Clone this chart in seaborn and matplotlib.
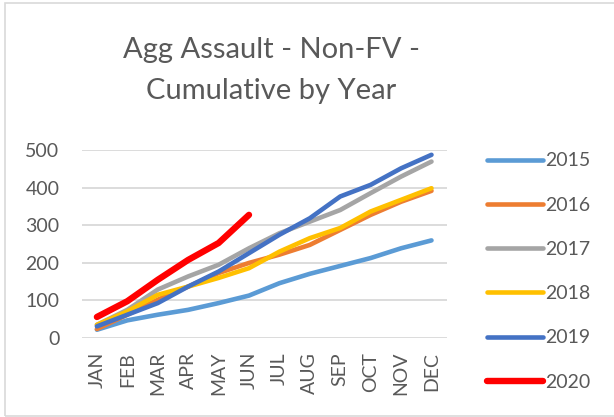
import pandas as pd
import matplotlib
matplotlib.use("Agg")
import matplotlib.pyplot as plt
import seaborn as sns
from matplotlib.patches import Rectangle
from matplotlib.lines import Line2D

months = ["JAN", "FEB", "MAR", "APR", "MAY", "JUN", "JUL", "AUG", "SEP", "OCT", "NOV", "DEC"]

y2015 = [22, 47, 62, 75, 93, 113, 146, 171, 192, 213, 239, 260]
y2016 = [24, 62, 102, 137, 173, 200, 222, 248, 288, 328, 363, 392]
y2017 = [35, 75, 129, 164, 195, 239, 279, 310, 341, 386, 430, 470]
y2018 = [35, 71, 115, 137, 160, 186, 230, 266, 293, 337, 368, 399]
y2019 = [31, 62, 93, 137, 177, 226, 275, 319, 377, 408, 452, 488]
y2020 = [56, 98, 155, 208, 253, 328]

series = {"2015": y2015, "2016": y2016, "2017": y2017,
          "2018": y2018, "2019": y2019, "2020": y2020}
colors = {"2015": "#5B9BD5", "2016": "#ED7D31", "2017": "#A5A5A5",
          "2018": "#FFC000", "2019": "#4472C4", "2020": "#FF0000"}

# long format pour seaborn
rows = []
for yr, vals in series.items():
    for i, v in enumerate(vals):
        rows.append({"year": yr, "month_idx": i, "count": v})
df = pd.DataFrame(rows)

sns.set_style("white")
plt.rcParams["font.family"] = ["Lato", "DejaVu Sans"]
txt = "#595959"

fig = plt.figure(figsize=(6.14, 4.17), dpi=100)
ax = fig.add_axes([81.7 / 614, 1 - 338 / 417, 365 / 614, (338 - 150.3) / 417])

for yr in series:
    lw = 4.6 if yr == "2020" else 3.3
    sns.lineplot(data=df[df["year"] == yr], x="month_idx", y="count", ax=ax,
                 color=colors[yr], linewidth=lw, solid_capstyle="round",
                 solid_joinstyle="round", legend=False)

ax.set_xlim(-0.5, 11.5)
ax.set_ylim(0, 500)
ax.set_yticks([0, 100, 200, 300, 400, 500])
ax.set_xticks(range(12))
ax.set_xticklabels(months, rotation=90)
ax.tick_params(axis="y", length=0, pad=16, labelsize=14, labelcolor=txt)
ax.tick_params(axis="x", length=0, pad=10, labelsize=14, labelcolor=txt)
ax.set_xlabel("")
ax.set_ylabel("")
ax.yaxis.grid(True, color="#D9D9D9", linewidth=1.3)
ax.set_axisbelow(True)
for s in ax.spines.values():
    s.set_visible(False)

fig.text(271 / 614, 1 - 50 / 417, "Agg Assault - Non-FV -",
         ha="center", va="center", fontsize=21, color=txt)
fig.text(271 / 614, 1 - 91 / 417, "Cumulative by Year",
         ha="center", va="center", fontsize=21, color=txt)

handles = [Line2D([], [], color=colors[yr], linewidth=(4.6 if yr == "2020" else 3.3),
                  solid_capstyle="round") for yr in series]
leg = fig.legend(handles, list(series.keys()), loc="upper left",
                 bbox_to_anchor=(469 / 614, 1 - 135 / 417), frameon=False,
                 fontsize=14, labelspacing=1.4, handlelength=2.9, handletextpad=0.12)
for t in leg.get_texts():
    t.set_color(txt)

fig.patches.append(Rectangle((5 / 614, 0.002), 1.2, 0.99, transform=fig.transFigure,
                             fill=False, edgecolor="#D9D9D9", linewidth=1.2))

fig.savefig("out.png", dpi=100)
